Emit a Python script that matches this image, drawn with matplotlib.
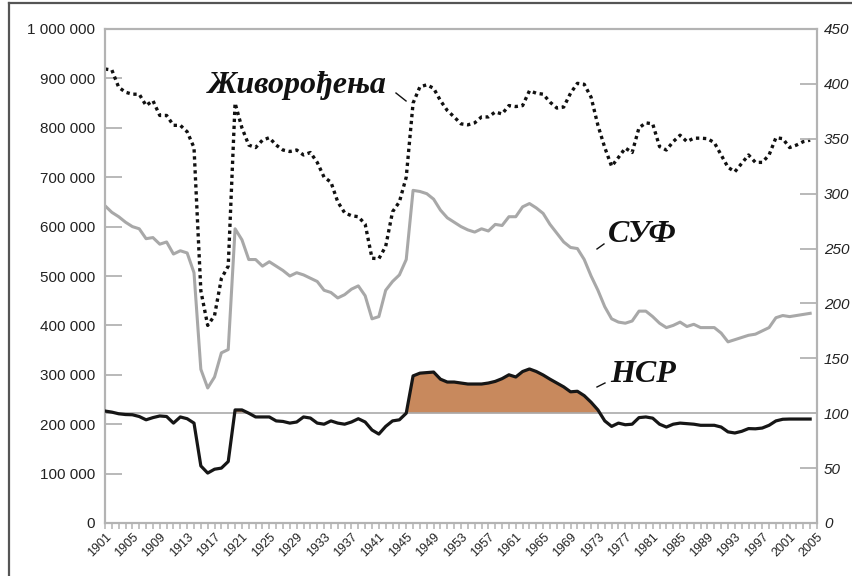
import matplotlib
matplotlib.use("Agg")
import matplotlib.pyplot as plt
from matplotlib.lines import Line2D
import numpy as np

# --- podaci (očitano sa slike) ---
years = list(range(1901, 2005))

births = [919, 917, 882, 872, 868, 868, 845, 855, 825, 825,
          805, 805, 792, 760, 470, 400, 420, 495, 520, 850,
          800, 765, 760, 775, 780, 765, 755, 752, 755, 745,
          750, 730, 700, 690, 650, 628, 622, 620, 605, 536,
          535, 560, 630, 650, 700, 850, 883, 887, 880, 855,
          835, 822, 808, 806, 810, 822, 822, 832, 828, 845,
          843, 845, 875, 870, 868, 852, 840, 842, 870, 890,
          888, 862, 805, 760, 722, 740, 759, 750, 800, 810,
          808, 762, 755, 772, 785, 772, 779, 779, 778, 770,
          745, 720, 711, 728, 745, 730, 730, 745, 780, 778,
          760, 765, 772, 775]
births = [b * 1000 for b in births]

suf = [289, 283, 279, 274, 270, 268, 259, 260, 254, 256,
       245, 248, 246, 228, 140, 123, 133, 155, 158, 268,
       258, 240, 240, 234, 238, 234, 230, 225, 228, 226,
       223, 220, 212, 210, 205, 208, 213, 216, 207, 186,
       188, 212, 220, 226, 240, 303, 302, 300, 295, 285,
       278, 274, 270, 267, 265, 268, 266, 272, 271, 279,
       279, 288, 291, 287, 282, 272, 264, 256, 251, 250,
       240, 225, 212, 197, 186, 183, 182, 184, 193, 193,
       188, 182, 178, 180, 183, 179, 181, 178, 178, 178,
       173, 165, 167, 169, 171, 172, 175, 178, 187, 189,
       188, 189, 190, 191]

nsr = [102, 101, 99.5, 98.8, 98.6, 97, 94, 96, 97.5, 97,
       91, 96.6, 95, 91, 52, 45.5, 49, 50, 56, 103,
       103, 100, 96.6, 96.6, 96.6, 93, 92.5, 91, 92, 96.6,
       95.6, 91, 90, 93, 91, 90, 92, 95, 92, 84.7,
       81, 88, 93, 94, 100, 134, 136.5, 137, 137.5, 131,
       128.4, 128.4, 127.5, 126.6, 126.6, 126.6, 127.5, 129, 131.5, 135,
       133, 138, 140.3, 138, 134.8, 131, 127.5, 124, 119.5, 120,
       116, 110, 103, 93, 88, 91, 89.5, 90, 96, 96.6,
       95.5, 90, 87.4, 90, 91, 90.5, 90, 89, 89, 89,
       87.4, 83, 82, 83.5, 86, 85.8, 86.5, 89, 93, 94.5,
       94.7, 94.7, 94.7, 94.7]

label_years = list(range(1901, 2006, 4))
left_ticks = list(range(0, 1000001, 100000))
right_ticks = list(range(0, 451, 50))

SPINE = '#b3b3b3'
FILL = '#c8895d'

fig = plt.figure(figsize=(8.52, 5.76), dpi=100, facecolor='white')
ax = fig.add_axes([105/852, 1-523/576, 712/852, 494/576])
ax2 = ax.twinx()

# lijeva osa: živorođeni
ax.plot(years, births, color='#111111', lw=2.4, linestyle=(0, (1, 1.1)), zorder=3)
ax.set_xlim(1901, 2005)
ax.set_ylim(0, 1000000)
ax.set_yticks(left_ticks)
ax.set_yticklabels([f"{v:,}".replace(",", " ") for v in left_ticks],
                   family='Liberation Sans', fontsize=11, color='#222222')

# desna osa: СУФ i НСР
x = np.array(years)
n = np.array(nsr)
ax2.fill_between(x, 100, n, where=n >= 100, interpolate=True, color=FILL, lw=0, zorder=1)
ax2.axhline(100, color='#aaaaaa', lw=1.2, zorder=1)
ax2.plot(years, suf, color='#a8a8a8', lw=2.2, zorder=2)
ax2.plot(years, nsr, color='#161616', lw=2.3, zorder=3)
ax2.set_ylim(0, 450)
ax2.set_yticks(right_ticks)
ax2.set_yticklabels([str(v) for v in right_ticks], family='Liberation Sans',
                    fontstyle='italic', fontsize=11, color='#222222')

ax.set_xticks(label_years)
ax.set_xticks(years + [2005], minor=True)
ax.set_xticklabels([str(y) for y in label_years], rotation=45, ha='right',
                   rotation_mode='anchor', fontsize=9, family='Liberation Sans', color='#222222')

for a in (ax, ax2):
    for s in a.spines.values():
        s.set_color(SPINE)
        s.set_linewidth(1.5)
ax.tick_params(axis='y', direction='in', length=12, width=1.3, color=SPINE, pad=7)
ax2.tick_params(axis='y', direction='in', length=12, width=1.3, color=SPINE, pad=5)
ax.tick_params(axis='x', which='both', direction='out', length=4, width=1.1, color=SPINE, pad=2)

# natpisi serija
lab = dict(transform=ax.transAxes, fontsize=23, fontweight='bold', fontstyle='italic',
           family='Liberation Serif', color='#111111', va='center', ha='left', zorder=5)
ax.text(0.1447, 0.8866, 'Живорођења', **lab)
ax.text(0.7065, 0.583, 'СУФ', **lab)
ax.text(0.7093, 0.2996, 'НСР', **lab)
for (x0, y0), (x1, y1) in [((0.4087, 0.8704), (0.4228, 0.8543)),
                           ((0.691, 0.5547), (0.7008, 0.5648)),
                           ((0.691, 0.2753), (0.7022, 0.2834))]:
    ax.plot([x0, x1], [y0, y1], transform=ax.transAxes, color='#111111', lw=1, zorder=5)

# okvir slike (vidljivi gornji i lijevi rub)
fig.add_artist(Line2D([9/852, 1], [1-3/576, 1-3/576], color='#555555', lw=1.6))
fig.add_artist(Line2D([9/852, 9/852], [0, 1-3/576], color='#555555', lw=1.6))

fig.savefig('out.png', dpi=100, facecolor='white')
